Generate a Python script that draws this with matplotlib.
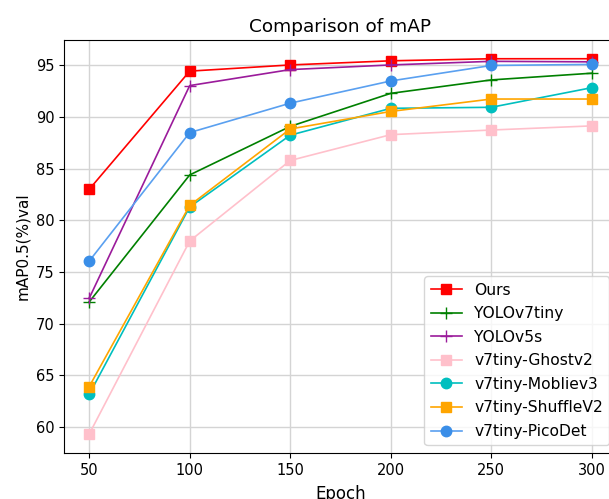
import matplotlib.pyplot as plt

epochs = [50, 100, 150, 200, 250, 300]

ours = [83.0, 94.45, 95.05, 95.45, 95.65, 95.65]
yolov7tiny = [72.1, 84.4, 89.1, 92.3, 93.6, 94.25]
yolov5s = [72.45, 93.05, 94.6, 95.05, 95.4, 95.35]
ghostv2 = [59.3, 78.0, 85.8, 88.3, 88.75, 89.15]
mobliev3 = [63.15, 81.3, 88.25, 90.85, 90.95, 92.85]
shufflev2 = [63.9, 81.45, 88.85, 90.55, 91.75, 91.75]
picodet = [76.05, 88.5, 91.35, 93.5, 95.0, 95.1]

fig = plt.figure(figsize=(6.09, 4.99), dpi=100)
# the reference is cropped: right spine and x label sit partly off the image
ax = fig.add_axes([0.1051, 0.0922, 0.908, 0.8277])

lw = 1.2
ax.plot(epochs, ours, color="red", marker="s", markersize=7, lw=lw, label="Ours")
ax.plot(epochs, yolov7tiny, color="green", marker="+", markersize=8, lw=lw, label="YOLOv7tiny")
ax.plot(epochs, yolov5s, color="#9b1b9b", marker="+", markersize=8, lw=lw, label="YOLOv5s")
ax.plot(epochs, ghostv2, color="pink", marker="s", markersize=7, lw=lw, label="v7tiny-Ghostv2")
ax.plot(epochs, mobliev3, color="c", marker="o", markersize=7.5, lw=lw, label="v7tiny-Mobliev3")
ax.plot(epochs, shufflev2, color="orange", marker="s", markersize=7, lw=lw, label="v7tiny-ShuffleV2")
ax.plot(epochs, picodet, color="#5aa0f0", marker="o", markersize=7.5, lw=lw,
        markerfacecolor="#3a8ee8", markeredgecolor="#3a8ee8", label="v7tiny-PicoDet")

ax.set_title("Comparison of mAP", fontsize=13.3)
ax.set_xlabel("Epoch", fontsize=12, labelpad=5)
ax.set_ylabel("mAP0.5(%)val", fontsize=11)
ax.tick_params(labelsize=10.5)
ax.set_xticks(epochs)
ax.grid(True, color="#d4d4d4", linewidth=1)
ax.set_axisbelow(True)
ax.legend(loc="lower right", fontsize=11.2, labelspacing=0.55)

fig.savefig("out.png", dpi=100)
